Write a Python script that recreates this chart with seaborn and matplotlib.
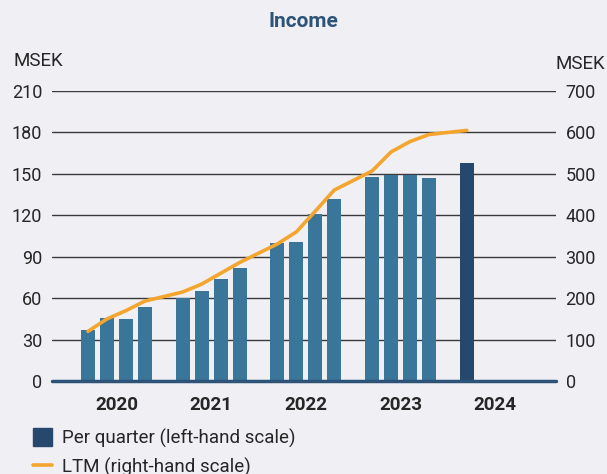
import pandas as pd
import numpy as np
import matplotlib.pyplot as plt
import seaborn as sns

# quarterly income (MSEK), left-hand scale
years = ["2020", "2021", "2022", "2023", "2024"]
q_2020 = [37, 45.6, 45, 53.6]
q_2021 = [60.1, 65.2, 73.9, 81.8]
q_2022 = [99.7, 100.7, 120.9, 131.8]
q_2023 = [147.7, 149.2, 149.2, 147]
q_2024 = [157.9]

# LTM income (MSEK), right-hand scale
ltm_2020 = [120, 150, 170, 193]
ltm_2021 = [215, 234, 260, 286]
ltm_2022 = [331, 360, 410, 461]
ltm_2023 = [507, 553, 578, 595]
ltm_2024 = [605]

quarters = [q_2020, q_2021, q_2022, q_2023, q_2024]
ltms = [ltm_2020, ltm_2021, ltm_2022, ltm_2023, ltm_2024]

rows = []
for i, (yr, qs, ls) in enumerate(zip(years, quarters, ltms)):
    for j, (q, l) in enumerate(zip(qs, ls)):
        rows.append({"pos": i * 5 + j, "income": q, "ltm": l,
                     "kind": "latest" if yr == "2024" else "past"})
data = pd.DataFrame(rows)

bg = "#EFEFF4"
bar_col = "#3A7699"
last_col = "#27486D"
line_col = "#F4A52E"
navy = "#2D5379"

sns.set_theme(style="white")
plt.rcParams["font.family"] = ["Roboto", "DejaVu Sans"]

fig = plt.figure(figsize=(6.07, 4.74), dpi=100, facecolor=bg)
ax = fig.add_axes([0.0857, 0.196, 0.83, 0.612])
ax.set_facecolor(bg)

sns.barplot(data=data, x="pos", y="income", hue="kind", native_scale=True,
            palette={"past": bar_col, "latest": last_col}, dodge=False,
            width=0.74, saturation=1, linewidth=0, legend=False, ax=ax,
            zorder=2)

ax.set_ylim(0, 210)
ax.set_yticks(np.arange(0, 211, 30))
ax.set_xlim(-1.9, 24.7)
ax.set_xticks([i * 5 + 1.5 for i in range(len(years))])
ax.set_xticklabels(years, fontsize=13.5, fontweight="bold")
ax.tick_params(axis="x", length=0, pad=11)
ax.tick_params(axis="y", length=0, pad=7, labelsize=13)
ax.grid(axis="y", color="#3a3a3a", lw=1, zorder=0)
ax.set_axisbelow(True)
for s in ax.spines.values():
    s.set_visible(False)
ax.axhline(0, color=navy, lw=2.5, zorder=5, clip_on=False)
ax.set_xlabel("")
ax.set_ylabel("")

ax2 = ax.twinx()
sns.lineplot(data=data, x="pos", y="ltm", color=line_col, lw=2.6, ax=ax2)
ax2.set_ylim(0, 700)
ax2.set_yticks(np.arange(0, 701, 100))
ax2.tick_params(axis="y", length=0, pad=7, labelsize=13)
for s in ax2.spines.values():
    s.set_visible(False)
ax2.set_ylabel("")
ax2.set_xlabel("")

fig.text(0.5, 0.955, "Income", ha="center", va="center", fontsize=15,
         fontweight="bold", color=navy)
fig.text(0.022, 0.872, "MSEK", ha="left", va="center", fontsize=13.5)
fig.text(0.997, 0.866, "MSEK", ha="right", va="center", fontsize=13.5)

handles = [plt.Rectangle((0, 0), 1, 1, color=last_col),
           plt.Line2D([0], [0], color=line_col, lw=2.6)]
fig.legend(handles, ["Per quarter (left-hand scale)", "LTM (right-hand scale)"],
           loc="upper left", bbox_to_anchor=(0.055, 0.097), frameon=False,
           fontsize=13.5, handlelength=1.0, handleheight=1.1, handletextpad=0.55,
           labelspacing=0.5, borderaxespad=0, borderpad=0)

fig.savefig("out.png", dpi=100, facecolor=bg)
